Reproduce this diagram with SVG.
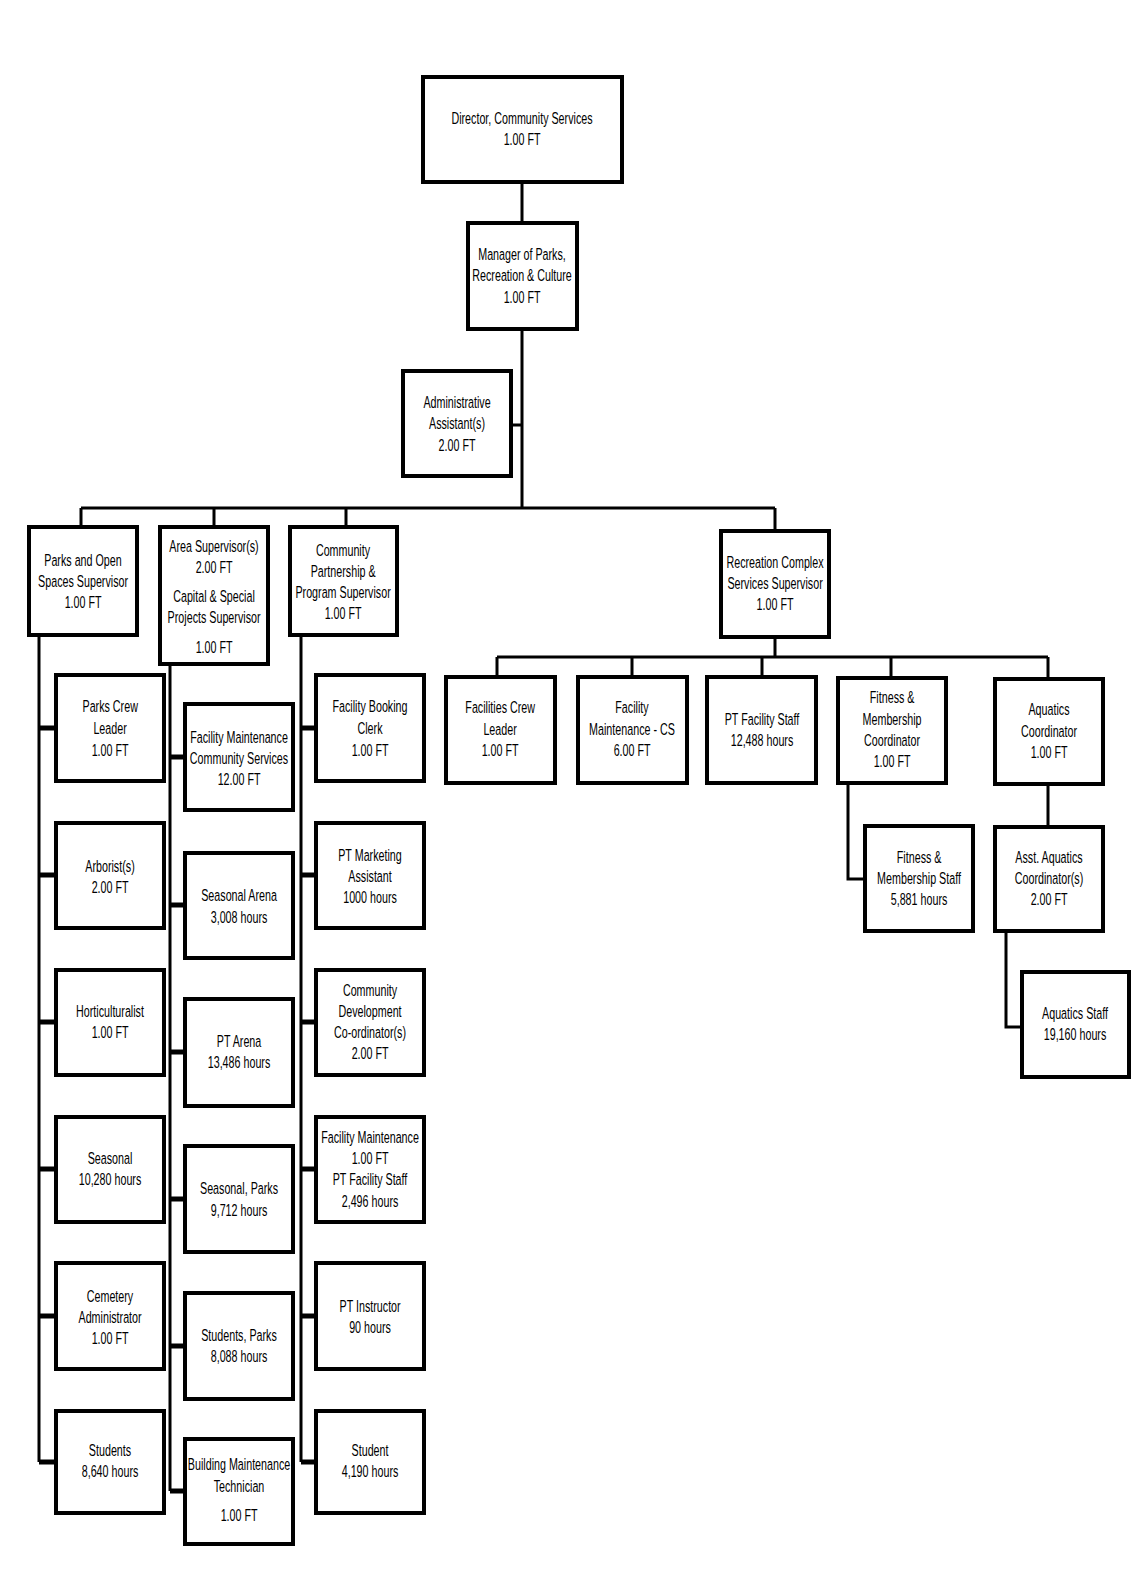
<svg xmlns="http://www.w3.org/2000/svg" width="1144" height="1584" viewBox="0 0 1144 1584">
<style>
.box{fill:#fff;stroke:#000;stroke-width:4}
.ln{stroke:#000;stroke-width:3;fill:none}
.stub{stroke:#000;stroke-width:5;fill:none}
text{font-family:"Liberation Sans",Arial,sans-serif;font-size:16.5px;text-anchor:middle;fill:#000;transform-box:fill-box;transform-origin:center;transform:scaleX(0.65)}
</style>
<rect width="1144" height="1584" fill="#fff"/>
<g id="connectors">
<path class="ln" d="M522 182V223M522 329V508M511 425H522M81 508H775M81 508V527M214 508V527M346 508V527M775 508V531"/>
<path class="ln" d="M775 637V657M497 657H1048M497 657V677M632 657V677M762 657V677M891 657V677M1048 657V679"/>
<path class="ln" d="M848 783V879H865M1048 784V827M1006 931V1027H1022"/>
<path class="ln" d="M39 635V1462M170 664V1491M301 635V1462"/>
<path class="stub" d="M39 728H56M39 875H56M39 1022H56M39 1169H56M39 1316H56M39 1462H56"/>
<path class="stub" d="M170 757H185M170 905H185M170 1052H185M170 1199H185M170 1346H185M170 1491H185"/>
<path class="stub" d="M301 728H316M301 875H316M301 1022H316M301 1169H316M301 1316H316M301 1462H316"/>
</g>
<g id="director"><rect class="box" x="423" y="77" width="199" height="105"/><text x="522" y="124">Director, Community Services</text><text x="522" y="145">1.00 FT</text></g>
<g id="manager"><rect class="box" x="468" y="223" width="109" height="106"/><text x="522" y="260">Manager of Parks,</text><text x="522" y="281">Recreation &amp; Culture</text><text x="522" y="303">1.00 FT</text></g>
<g id="admin"><rect class="box" x="403" y="371" width="108" height="105"/><text x="457" y="408">Administrative</text><text x="457" y="429">Assistant(s)</text><text x="457" y="451">2.00 FT</text></g>
<g id="parks-sup"><rect class="box" x="29" y="527" width="108" height="108"/><text x="83" y="566">Parks and Open</text><text x="83" y="587">Spaces Supervisor</text><text x="83" y="608">1.00 FT</text></g>
<g id="area-sup"><rect class="box" x="160" y="527" width="108" height="137"/><text x="214" y="552">Area Supervisor(s)</text><text x="214" y="573">2.00 FT</text><text x="214" y="602">Capital &amp; Special</text><text x="214" y="623">Projects Supervisor</text><text x="214" y="653">1.00 FT</text></g>
<g id="community-sup"><rect class="box" x="290" y="527" width="107" height="108"/><text x="343" y="556">Community</text><text x="343" y="577">Partnership &amp;</text><text x="343" y="598">Program Supervisor</text><text x="343" y="619">1.00 FT</text></g>
<g id="rec-sup"><rect class="box" x="721" y="531" width="108" height="106"/><text x="775" y="568">Recreation Complex</text><text x="775" y="589">Services Supervisor</text><text x="775" y="610">1.00 FT</text></g>

<g id="parks-crew"><rect class="box" x="56" y="675" width="108" height="106"/><text x="110" y="712">Parks Crew</text><text x="110" y="734">Leader</text><text x="110" y="756">1.00 FT</text></g>
<g id="arborist"><rect class="box" x="56" y="823" width="108" height="105"/><text x="110" y="872">Arborist(s)</text><text x="110" y="893">2.00 FT</text></g>
<g id="horticulturalist"><rect class="box" x="56" y="970" width="108" height="105"/><text x="110" y="1017">Horticulturalist</text><text x="110" y="1038">1.00 FT</text></g>
<g id="seasonal"><rect class="box" x="56" y="1117" width="108" height="105"/><text x="110" y="1164">Seasonal</text><text x="110" y="1185">10,280 hours</text></g>
<g id="cemetery"><rect class="box" x="56" y="1263" width="108" height="106"/><text x="110" y="1302">Cemetery</text><text x="110" y="1323">Administrator</text><text x="110" y="1344">1.00 FT</text></g>
<g id="students"><rect class="box" x="56" y="1411" width="108" height="102"/><text x="110" y="1456">Students</text><text x="110" y="1477">8,640 hours</text></g>

<g id="fac-maint-cs"><rect class="box" x="185" y="704" width="108" height="106"/><text x="239" y="743">Facility Maintenance</text><text x="239" y="764">Community Services</text><text x="239" y="785">12.00 FT</text></g>
<g id="seasonal-arena"><rect class="box" x="185" y="853" width="108" height="105"/><text x="239" y="901">Seasonal Arena</text><text x="239" y="923">3,008 hours</text></g>
<g id="pt-arena"><rect class="box" x="185" y="999" width="108" height="107"/><text x="239" y="1047">PT Arena</text><text x="239" y="1068">13,486 hours</text></g>
<g id="seasonal-parks"><rect class="box" x="185" y="1146" width="108" height="106"/><text x="239" y="1194">Seasonal, Parks</text><text x="239" y="1216">9,712 hours</text></g>
<g id="students-parks"><rect class="box" x="185" y="1293" width="108" height="106"/><text x="239" y="1341">Students, Parks</text><text x="239" y="1362">8,088 hours</text></g>
<g id="building-maint"><rect class="box" x="185" y="1439" width="108" height="105"/><text x="239" y="1470">Building Maintenance</text><text x="239" y="1492">Technician</text><text x="239" y="1521">1.00 FT</text></g>

<g id="booking-clerk"><rect class="box" x="316" y="675" width="108" height="106"/><text x="370" y="712">Facility Booking</text><text x="370" y="734">Clerk</text><text x="370" y="756">1.00 FT</text></g>
<g id="pt-marketing"><rect class="box" x="316" y="823" width="108" height="105"/><text x="370" y="861">PT Marketing</text><text x="370" y="882">Assistant</text><text x="370" y="903">1000 hours</text></g>
<g id="comm-dev"><rect class="box" x="316" y="970" width="108" height="105"/><text x="370" y="996">Community</text><text x="370" y="1017">Development</text><text x="370" y="1038">Co-ordinator(s)</text><text x="370" y="1059">2.00 FT</text></g>
<g id="fac-maint-pt"><rect class="box" x="316" y="1117" width="108" height="105"/><text x="370" y="1143">Facility Maintenance</text><text x="370" y="1164">1.00 FT</text><text x="370" y="1185">PT Facility Staff</text><text x="370" y="1207">2,496 hours</text></g>
<g id="pt-instructor"><rect class="box" x="316" y="1263" width="108" height="106"/><text x="370" y="1312">PT Instructor</text><text x="370" y="1333">90 hours</text></g>
<g id="student"><rect class="box" x="316" y="1411" width="108" height="102"/><text x="370" y="1456">Student</text><text x="370" y="1477">4,190 hours</text></g>

<g id="fac-crew"><rect class="box" x="446" y="677" width="109" height="106"/><text x="500" y="713">Facilities Crew</text><text x="500" y="735">Leader</text><text x="500" y="756">1.00 FT</text></g>
<g id="fac-maint-cs2"><rect class="box" x="578" y="677" width="109" height="106"/><text x="632" y="713">Facility</text><text x="632" y="735">Maintenance - CS</text><text x="632" y="756">6.00 FT</text></g>
<g id="pt-fac-staff"><rect class="box" x="707" y="677" width="109" height="106"/><text x="762" y="725">PT Facility Staff</text><text x="762" y="746">12,488 hours</text></g>
<g id="fitness-coord"><rect class="box" x="838" y="678" width="108" height="105"/><text x="892" y="703">Fitness &amp;</text><text x="892" y="725">Membership</text><text x="892" y="746">Coordinator</text><text x="892" y="767">1.00 FT</text></g>
<g id="aquatics-coord"><rect class="box" x="995" y="679" width="108" height="105"/><text x="1049" y="715">Aquatics</text><text x="1049" y="737">Coordinator</text><text x="1049" y="758">1.00 FT</text></g>
<g id="fitness-staff"><rect class="box" x="865" y="826" width="108" height="105"/><text x="919" y="863">Fitness &amp;</text><text x="919" y="884">Membership Staff</text><text x="919" y="905">5,881 hours</text></g>
<g id="asst-aquatics"><rect class="box" x="995" y="827" width="108" height="104"/><text x="1049" y="863">Asst. Aquatics</text><text x="1049" y="884">Coordinator(s)</text><text x="1049" y="905">2.00 FT</text></g>
<g id="aquatics-staff"><rect class="box" x="1022" y="972" width="107" height="105"/><text x="1075" y="1019">Aquatics Staff</text><text x="1075" y="1040">19,160 hours</text></g>
</svg>
